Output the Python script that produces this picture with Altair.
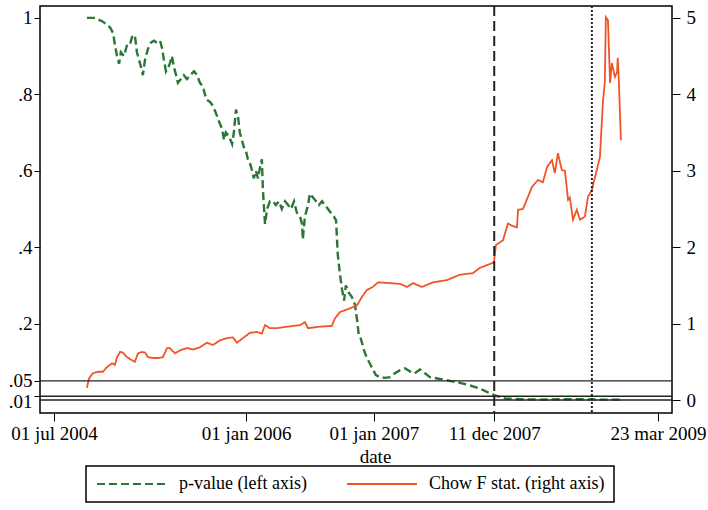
import altair as alt
import pandas as pd

# ---- data ----
p_dates = ["2004-10-03","2004-10-26","2004-11-18","2004-12-08","2004-12-17","2004-12-22","2004-12-28",
           "2005-01-03","2005-01-08","2005-01-17","2005-01-26","2005-02-03","2005-02-09","2005-02-17",
           "2005-02-23","2005-03-01","2005-03-07","2005-03-12","2005-03-18","2005-03-27","2005-04-04",
           "2005-04-13","2005-04-21","2005-04-30","2005-05-06","2005-05-11","2005-05-17","2005-05-23",
           "2005-05-28","2005-06-03","2005-06-09","2005-06-15","2005-06-20","2005-06-29","2005-07-07",
           "2005-07-16","2005-07-25","2005-08-05","2005-08-14","2005-08-22","2005-08-31","2005-09-05",
           "2005-09-11","2005-09-20","2005-09-28","2005-10-07","2005-10-15","2005-10-24","2005-10-30",
           "2005-11-04","2005-11-13","2005-11-22","2005-11-27","2005-12-03","2005-12-09","2005-12-14",
           "2005-12-20","2005-12-26","2006-01-01","2006-01-06","2006-01-12","2006-01-18","2006-01-23",
           "2006-01-29","2006-02-04","2006-02-10","2006-02-15","2006-02-18","2006-02-24","2006-03-02",
           "2006-03-10","2006-03-19","2006-03-27","2006-04-05","2006-04-13","2006-04-22","2006-05-01",
           "2006-05-09","2006-05-18","2006-05-26","2006-06-04","2006-06-10","2006-06-12","2006-06-18",
           "2006-06-27","2006-07-02","2006-07-11","2006-07-20","2006-07-28","2006-08-06","2006-08-14",
           "2006-08-23","2006-08-31","2006-09-09","2006-09-15","2006-09-20","2006-09-26","2006-10-02",
           "2006-10-08","2006-10-13","2006-10-22","2006-10-30","2006-11-08","2006-11-14","2006-11-19",
           "2006-11-25","2006-12-04","2006-12-12","2006-12-21","2006-12-29","2007-01-07","2007-01-18",
           "2007-02-02","2007-02-16","2007-03-02","2007-03-17","2007-03-31","2007-04-14","2007-04-28",
           "2007-05-13","2007-05-27","2007-06-10","2007-07-09","2007-08-06","2007-09-04","2007-10-03",
           "2007-10-31","2007-11-23","2007-12-13","2008-01-11","2008-02-22","2008-04-20","2008-06-16",
           "2008-08-12","2008-10-08","2008-12-04"]
p_values = [1.00,1.00,0.99,0.975,0.96,0.93,0.90,
            0.88,0.91,0.90,0.93,0.93,0.95,0.955,
            0.91,0.89,0.87,0.85,0.89,0.92,0.935,
            0.94,0.935,0.94,0.92,0.89,0.86,0.87,
            0.88,0.90,0.87,0.85,0.83,0.84,0.85,
            0.84,0.85,0.86,0.85,0.83,0.82,0.80,
            0.785,0.78,0.77,0.75,0.73,0.71,0.68,
            0.70,0.69,0.67,0.70,0.76,0.74,0.70,
            0.68,0.66,0.65,0.63,0.62,0.60,0.58,
            0.60,0.58,0.61,0.63,0.55,0.46,0.50,
            0.52,0.52,0.51,0.52,0.50,0.52,0.51,
            0.50,0.52,0.49,0.48,0.46,0.42,0.48,
            0.51,0.54,0.53,0.52,0.51,0.52,0.51,
            0.50,0.49,0.48,0.47,0.38,0.33,0.29,
            0.26,0.30,0.28,0.27,0.25,0.21,0.17,
            0.16,0.13,0.11,0.095,0.08,0.065,0.06,
            0.058,0.06,0.07,0.078,0.083,0.075,0.07,
            0.08,0.07,0.06,0.055,0.05,0.045,0.038,
            0.03,0.02,0.012,0.004,0.002,0.001,0.002,
            0.002,0.001,0.001]

f_dates = ["2004-10-03","2004-10-09","2004-10-15","2004-10-20","2004-11-04","2004-11-18","2004-11-29",
           "2004-12-14","2004-12-22","2004-12-28","2005-01-06","2005-01-14","2005-01-26","2005-02-09",
           "2005-02-17","2005-02-26","2005-03-09","2005-03-18","2005-03-27","2005-04-10","2005-04-24",
           "2005-05-08","2005-05-20","2005-05-28","2005-06-12","2005-06-26","2005-07-16","2005-08-02",
           "2005-08-22","2005-09-11","2005-09-28","2005-10-18","2005-11-07","2005-11-24","2005-12-06",
           "2005-12-23","2006-01-12","2006-02-01","2006-02-15","2006-02-24","2006-03-10","2006-03-30",
           "2006-04-28","2006-06-04","2006-06-18","2006-06-27","2006-07-31","2006-09-03","2006-09-12",
           "2006-09-26","2006-10-25","2006-11-14","2006-11-28","2006-12-12","2006-12-29","2007-01-13",
           "2007-02-16","2007-03-17","2007-04-06","2007-04-23","2007-05-18","2007-06-19","2007-07-29",
           "2007-09-04","2007-10-11","2007-10-31","2007-12-04","2007-12-10","2007-12-16","2008-01-05",
           "2008-01-19","2008-01-31","2008-02-14","2008-02-17","2008-03-02","2008-03-13","2008-03-28",
           "2008-04-14","2008-04-28","2008-05-10","2008-05-24","2008-06-01","2008-06-10","2008-06-21",
           "2008-06-30","2008-07-09","2008-07-14","2008-07-23","2008-08-03","2008-08-12","2008-08-26",
           "2008-09-04","2008-09-15","2008-09-29","2008-10-08","2008-10-17","2008-10-22","2008-10-25",
           "2008-10-31","2008-11-06","2008-11-11","2008-11-20","2008-11-26","2008-11-28","2008-12-01",
           "2008-12-07"]
f_values = [0.16,0.28,0.32,0.35,0.37,0.37,0.43,
            0.48,0.46,0.56,0.63,0.62,0.56,0.52,
            0.50,0.61,0.63,0.62,0.56,0.55,0.55,
            0.56,0.68,0.68,0.61,0.65,0.68,0.66,
            0.69,0.75,0.72,0.78,0.81,0.82,0.75,
            0.81,0.88,0.89,0.87,0.98,0.94,0.94,
            0.96,0.98,1.02,0.94,0.96,0.97,1.07,
            1.15,1.20,1.24,1.35,1.44,1.48,1.54,
            1.53,1.52,1.48,1.53,1.48,1.54,1.57,
            1.64,1.66,1.73,1.79,1.80,2.03,2.09,
            2.31,2.28,2.26,2.49,2.50,2.62,2.79,
            2.88,2.85,3.05,3.14,2.97,3.23,3.01,
            3.00,2.62,2.65,2.36,2.49,2.36,2.40,
            2.66,2.75,3.01,3.18,3.93,4.15,5.01,
            4.97,4.15,4.41,4.23,4.29,4.48,4.19,
            3.40]

series_names = ["p-value (left axis)", "Chow F stat. (right axis)"]
hlines_p = [0.05, 0.01, 0.0]
vline_dashed = ["2007-12-11"]
vline_dotted = ["2008-09-15"]

GREEN = "#2b7636"
RED = "#f05428"
FONT = "Liberation Serif"

p_df = pd.DataFrame({"date": p_dates, "val": p_values, "series": series_names[0]})
f_df = pd.DataFrame({"date": f_dates, "val": f_values, "series": series_names[1]})
h_df = pd.DataFrame({"y": hlines_p})
vd_df = pd.DataFrame({"date": vline_dashed})
vo_df = pd.DataFrame({"date": vline_dotted})

x_scale = alt.Scale(domain=[alt.DateTime(year=2004, month=5, date=22),
                            alt.DateTime(year=2009, month=5, date=2)])
left_scale = alt.Scale(domain=[-0.034, 1.031], nice=False, zero=False)
right_scale = alt.Scale(domain=[-0.17, 5.157], nice=False, zero=False)

x_axis = alt.Axis(
    values=[alt.DateTime(year=2004, month=7, date=1),
            alt.DateTime(year=2006, month=1, date=1),
            alt.DateTime(year=2007, month=1, date=1),
            alt.DateTime(year=2007, month=12, date=11),
            alt.DateTime(year=2009, month=3, date=23)],
    format="%d %b %Y", labelExpr="lower(datum.label)",
    title="date", grid=False, domain=False, tickSize=8, tickColor="black",
    labelPadding=3, titlePadding=4, titleX=335, labelOverlap=False,
    labelFlush=False, labelFontSize=19, titleFontSize=19)

color_scale = alt.Scale(domain=series_names, range=[GREEN, RED])
dash_scale = alt.Scale(domain=series_names, range=[[8, 4], [1, 0]])
legend = alt.Legend(title=None, orient="none", legendX=46, legendY=460,
                    direction="horizontal", strokeColor="black", padding=9,
                    symbolType="M-1,0H9", symbolSize=196, symbolStrokeWidth=2,
                    labelOffset=66, columnPadding=36, labelLimit=400)

x_enc = alt.X("date:T", scale=x_scale, axis=x_axis)

green = alt.Chart(p_df).mark_line(strokeWidth=2.4).encode(
    x=x_enc,
    y=alt.Y("val:Q", scale=left_scale,
            axis=alt.Axis(values=[0.01, 0.05, 0.2, 0.4, 0.6, 0.8, 1.0],
                          labelExpr="datum.value == 1 ? '1' : replace(format(datum.value, '.2~f'), '0.', '.')",
                          title=None, grid=False, domain=False, tickSize=6,
                          tickColor="black", labelPadding=2, orient="left",
                          labelFontSize=19,
                          labelOffset={"condition": {"test": "datum.value == 0.01", "value": 5},
                                       "value": 0})),
    color=alt.Color("series:N", scale=color_scale, legend=legend),
    strokeDash=alt.StrokeDash("series:N", scale=dash_scale, legend=legend),
)

red = alt.Chart(f_df).mark_line(strokeWidth=1.8).encode(
    x=x_enc,
    y=alt.Y("val:Q", scale=right_scale,
            axis=alt.Axis(values=[0, 1, 2, 3, 4, 5], title=None, grid=False,
                          domain=False, tickSize=8, tickColor="black",
                          labelPadding=6, orient="right", labelFontSize=19)),
    color=alt.Color("series:N", scale=color_scale, legend=legend),
    strokeDash=alt.StrokeDash("series:N", scale=dash_scale, legend=legend),
)

hrules = alt.Chart(h_df).mark_rule(color="#222", strokeWidth=1.4).encode(
    y=alt.Y("y:Q", scale=left_scale, axis=None))

vdash = alt.Chart(vd_df).mark_rule(color="#222", strokeWidth=2, strokeDash=[10, 5]).encode(
    x=x_enc)
vdot = alt.Chart(vo_df).mark_rule(color="#222", strokeWidth=2, strokeDash=[2, 2]).encode(
    x=x_enc)

chart = alt.layer(green, red, hrules, vdash, vdot).resolve_scale(
    y="independent"
).properties(
    width=632, height=407,
    padding={"left": 40, "top": 6, "right": 36, "bottom": 97},
    autosize="none",
    background="white",
).configure_view(
    stroke="black", strokeWidth=1.5
).configure_axis(
    labelFont=FONT, titleFont=FONT,
    labelColor="black", titleColor="black", titleFontWeight="normal"
).configure_legend(
    labelFont=FONT, labelFontSize=18, labelColor="black", strokeWidth=1.5
)

chart.save("out.html", embed_options={"renderer": "svg", "actions": False})
